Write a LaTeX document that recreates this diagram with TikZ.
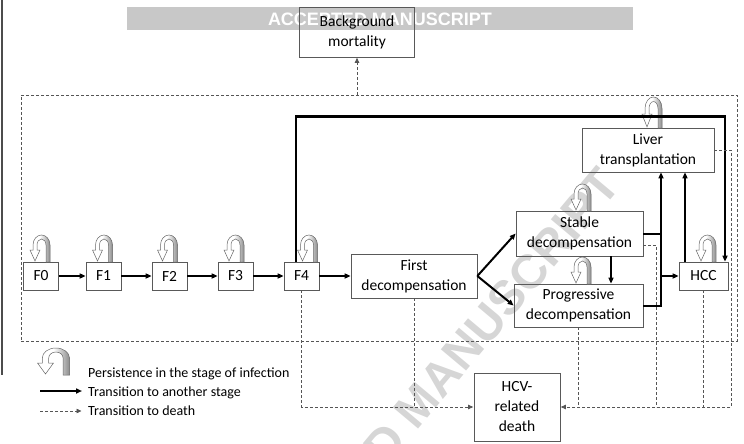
\documentclass[tikz,border=0pt]{standalone}
\usepackage{fontspec}
\setmainfont{Carlito}
\newfontfamily\wmfont{Liberation Sans}
\usetikzlibrary{arrows.meta,positioning,calc}
\definecolor{hcvline}{RGB}{85,85,85}
\definecolor{hcvgray}{RGB}{200,200,200}
\newcommand{\boxfont}{\fontsize{15.5}{20}\selectfont}
\newcommand{\legfont}{\fontsize{14}{17}\selectfont}
\tikzset{
  persist/.pic={
    \shadedraw[left color=white, right color=black!45, middle color=white,
               draw=black!60, line width=0.5pt]
      (10,0) -- (10,-17) arc[start angle=0, end angle=-180, x radius=8.5, y radius=10]
      -- (-7,-12) -- (-10,-12) -- (-5,-1) -- (0,-12) -- (-3,-12) -- (-3,-17)
      arc[start angle=-180, end angle=0, x radius=4.5, y radius=6] -- (6,0) -- cycle;
  }
}

\begin{document}
\begin{tikzpicture}[x=1pt, y=-1pt,
  sbox/.style={rectangle, draw=black!65, line width=0.7pt, inner sep=0pt,
               align=center, font=\boxfont},
  fstate/.style={sbox, minimum width=35pt, minimum height=28pt},
  outerbox/.style={rectangle, draw=hcvline, line width=0.7pt, dash pattern=on 3pt off 2pt,
               inner sep=0pt, minimum width=716pt, minimum height=246pt},
  tline/.style={line width=2pt},
  tarr/.style={tline, -{Triangle[length=6pt, width=5pt]}},
  thinner/.style={line width=1.4pt},
  dline/.style={draw=hcvline, line width=0.7pt, dash pattern=on 3pt off 2pt},
  darr/.style={dline, -{Triangle[length=5pt, width=4.5pt]}, shorten >=0.5pt},
  legtext/.style={anchor=base west, inner sep=0pt, font=\legfont}
]
\useasboundingbox (0,0) rectangle (744,444);
\clip (0,0) rectangle (744,444);

% Watermark
\fill[hcvgray] (127,7) rectangle (633,30);
\node[font=\wmfont\bfseries\fontsize{18}{18}\selectfont, text=white] (wmbar) at (380,19) {ACCEPTED MANUSCRIPT};
\node[rotate=50, text=black!16, font=\wmfont\bfseries\fontsize{48}{48}\selectfont] (wmdiag) at (418,404) {ACCEPTED MANUSCRIPT};
\draw[black!70, line width=2pt] (1.5,0) -- (1.5,375);

% Model frame
\node[outerbox] (model) at (379,218) {};

% Stages
\node[fstate] (f0) at (41,276) {F0};
\node[fstate] (f1) at (103.5,276) {F1};
\node[fstate] (f2) at (169.5,276) {F2};
\node[fstate] (f3) at (235.5,276) {F3};
\node[fstate] (f4) at (301.5,276) {F4};
\node[sbox, minimum width=126pt, minimum height=44pt] (fd)  at (414,276)     {First\\decompensation};
\node[sbox, minimum width=127pt, minimum height=45pt] (sd)  at (579.5,233.5) {Stable\\decompensation};
\node[sbox, minimum width=129pt, minimum height=43pt] (pd)  at (578.5,305.5) {Progressive\\decompensation};
\node[sbox, minimum width=132pt, minimum height=44pt] (lt)  at (648,150)     {Liver\\transplantation};
\node[sbox, minimum width=49pt,  minimum height=28pt] (hcc) at (703.5,276)   {HCC};
\node[sbox, minimum width=86pt,  minimum height=68pt] (hd)  at (517,407)     {HCV-\\related\\death};
\node[sbox, minimum width=115pt, minimum height=50pt] (bm)  at (357,32)      {Background\\mortality};

% Persistence loops
\pic at (40,262) {persist};
\pic at (102.5,262) {persist};
\pic at (167.5,262) {persist};
\pic at (234,262) {persist};
\pic at (307.5,262) {persist};
\pic at (581,211) {persist};
\pic at (581,284) {persist};
\pic at (706,262) {persist};
\pic[yscale=1.15] at (652,128) {persist};

% Transitions
\foreach \a/\b in {f0/f1, f1/f2, f2/f3, f3/f4, f4/fd}
  \draw[tarr] (\a.east) -- (\b.west);
\draw[tarr] (fd.east) -- (sd.west);
\draw[tarr] (fd.east) -- (pd.west);
\draw[tarr, thinner] ([xshift=31.5pt]sd.south) -- ([xshift=32.5pt]pd.north);
\coordinate (bus) at (661,276);
\draw[tline] (sd.east) -- (sd.east -| bus);
\draw[tarr] (pd.east) -| (bus |- lt.south);
\draw[tarr] (bus) -- (hcc.west);
\draw[tarr, thinner] ([xshift=-18.5pt]hcc.north) -- ([xshift=-18.5pt]hcc.north |- lt.south);
\draw[tarr, line width=2.6pt] ([xshift=-5.5pt]f4.north) -- ++(0,-145) -| ([xshift=21.5pt]hcc.north);

% Deaths
\draw[darr] (bm.south |- model.north) -- (bm.south);
\draw[darr] (f4.south) |- (hd.west);
\draw[dline] (fd.south) -- (fd.south |- hd.west);
\draw[darr] (lt.east) -- ++(17,0) |- (hd.east);
\draw[dline] ([yshift=-11.5pt]sd.east) -- ++(13,0) coordinate (sdr) -- (sdr |- hd.east);
\draw[dline] (pd.south) -- (pd.south |- hd.east);
\draw[dline] (hcc.south) -- (hcc.south |- hd.east);

% Legend
\pic[xscale=1.6] at (53.5,375) {persist};
\node[legtext] (lg1) at (88,377) {Persistence in the stage of infection};
\node[legtext] (lg2) at (88,396) {Transition to another stage};
\node[legtext] (lg3) at (88,415) {Transition to death};
\coordinate (ls1) at (40,391);
\coordinate (ls2) at (82,391);
\coordinate (ld1) at (40,411);
\coordinate (ld2) at (82,411);
\draw[tarr, line width=1.5pt] (ls1) -- (ls2);
\draw[darr] (ld1) -- (ld2);
\end{tikzpicture}
\end{document}
